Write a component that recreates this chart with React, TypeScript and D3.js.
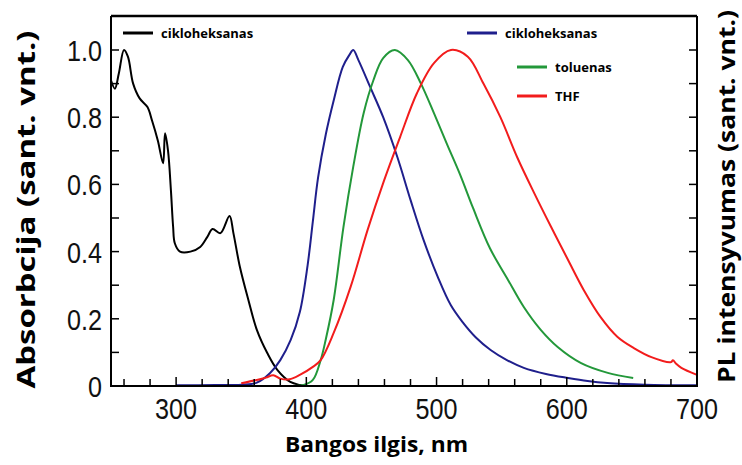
import React from "react";
import * as d3 from "d3";

// ---- data (wavelength nm, normalised intensity) ----
const absCyclohexane: [number, number][] = [
  [250, 0.91], [253, 0.885], [256, 0.93], [260, 1.0], [263, 0.98], [267, 0.9], [272, 0.856],
  [278, 0.83], [281.5, 0.79], [286, 0.73], [290, 0.663], [291.5, 0.752], [293.8, 0.7],
  [296, 0.583], [297.7, 0.474], [299, 0.425], [303, 0.4], [311, 0.4], [318.5, 0.414],
  [324, 0.444], [328, 0.467], [334, 0.455], [341, 0.506], [344, 0.455], [349, 0.354],
  [355.5, 0.256], [362, 0.167], [370, 0.098], [377.7, 0.048], [387.7, 0.012], [395, 0.003], [400, 0.0],
];
const plCyclohexane: [number, number][] = [
  [300, 0.002], [330, 0.003], [350, 0.004], [362, 0.01], [372, 0.038], [380, 0.077],
  [388, 0.137], [395, 0.22], [401, 0.36], [405, 0.49], [409, 0.62], [415, 0.75], [421, 0.85],
  [428, 0.95], [433, 0.985], [436, 1.0], [440, 0.97], [449, 0.89], [459, 0.8], [470, 0.68],
  [480, 0.554], [490, 0.435], [501, 0.324], [511, 0.24], [520, 0.19], [530, 0.145],
  [541.5, 0.107], [554, 0.077], [567, 0.054], [584, 0.036], [601, 0.024], [616, 0.015],
  [631, 0.009], [660, 0.004], [700, 0.002],
];
const plToluene: [number, number][] = [
  [350, 0.0], [380, 0.0], [398, 0.003], [405, 0.018], [411, 0.077], [415, 0.14], [421, 0.256],
  [428.5, 0.473], [436, 0.652], [444, 0.812], [451.5, 0.91], [459, 0.976], [468, 1.0],
  [478, 0.97], [488, 0.9], [498, 0.812], [508, 0.72], [518, 0.63], [528, 0.53], [541, 0.41],
  [555, 0.315], [567, 0.235], [580, 0.167], [593, 0.116], [611, 0.068], [631.5, 0.039], [651, 0.024],
];
const plTHF: [number, number][] = [
  [350, 0.008], [362, 0.018], [369, 0.025], [374.6, 0.032], [380, 0.022], [387, 0.02],
  [395, 0.033], [405, 0.057], [411, 0.077], [421, 0.158], [434, 0.295], [447, 0.464],
  [459, 0.604], [472, 0.741], [485, 0.872], [498, 0.961], [511, 1.0], [524, 0.98], [536, 0.9],
  [549, 0.8], [562, 0.68], [575, 0.574], [588, 0.473], [601, 0.375], [613, 0.286], [626, 0.205],
  [639, 0.146], [651.5, 0.113], [665, 0.086], [680, 0.071], [681.5, 0.077], [684, 0.066],
  [688, 0.054], [700, 0.033],
];

const xTickLabels = [300, 400, 500, 600, 700];
const yTickLabels = [0, 0.2, 0.4, 0.6, 0.8, 1.0];

const series = [
  { name: "cikloheksanas", data: absCyclohexane, color: "#000000" },
  { name: "cikloheksanas", data: plCyclohexane, color: "#1f1f8c" },
  { name: "toluenas", data: plToluene, color: "#23983a" },
  { name: "THF", data: plTHF, color: "#f21c1c" },
];

const legendItems = [
  { label: "cikloheksanas", color: "#000000", x1: 123, y: 33 },
  { label: "cikloheksanas", color: "#1f1f8c", x1: 467, y: 33 },
  { label: "toluenas", color: "#23983a", x1: 517, y: 67 },
  { label: "THF", color: "#f21c1c", x1: 517, y: 96 },
];

export default function App() {
  const W = 742, H = 465;
  const left = 111, right = 697, top = 16, bottom = 386;
  const x = d3.scaleLinear().domain([250, 700]).range([left, right]);
  const y = d3.scaleLinear().domain([0, 1]).range([bottom, 50]);

  const line = d3
    .line<[number, number]>()
    .x((d) => x(d[0]))
    .y((d) => Math.min(bottom, y(d[1])))
    .curve(d3.curveCatmullRom.alpha(0.5));

  const xTicks = d3.range(260, 700, 20);
  const yTicks = d3.range(1, 11).map((i) => i / 10);

  const tickFont = "'Liberation Sans', Arial, sans-serif";
  const titleFont = "'Open Sans', 'Noto Sans', sans-serif";

  return (
    <svg width={W} height={H} style={{ position: "absolute", left: 0, top: 0, background: "#fff" }}>
      <rect x={0} y={0} width={W} height={H} fill="#fff" />
      {/* curves */}
      {series.map((s, i) => (
        <path key={i} d={line(s.data) || ""} fill="none" stroke={s.color} strokeWidth={2} strokeLinejoin="round" />
      ))}
      {/* frame */}
      <line x1={left} x2={right} y1={top} y2={top} stroke="#000" strokeWidth={2.5} />
      <line x1={left} x2={right} y1={bottom} y2={bottom} stroke="#000" strokeWidth={2} />
      <line x1={left} x2={left} y1={top} y2={bottom + 1} stroke="#000" strokeWidth={2} />
      <line x1={right} x2={right} y1={top} y2={bottom + 1} stroke="#000" strokeWidth={2} />
      {/* x ticks */}
      {xTicks.map((t) => (
        <line key={"xt" + t} x1={x(t)} x2={x(t)} y1={bottom} y2={bottom - (t % 100 === 0 ? 9 : 7)} stroke="#000" strokeWidth={1.5} />
      ))}
      {/* y ticks left & right */}
      {yTicks.map((t) => (
        <g key={"yt" + t}>
          <line x1={left} x2={left + 8} y1={y(t)} y2={y(t)} stroke="#000" strokeWidth={1.5} />
          <line x1={right} x2={right - 8} y1={y(t)} y2={y(t)} stroke="#000" strokeWidth={1.5} />
        </g>
      ))}
      {/* tick labels */}
      {xTickLabels.map((t) => (
        <text key={"xl" + t} transform={`translate(${x(t)},419) scale(0.84,1)`} textAnchor="middle" fontFamily={tickFont} fontSize={30} fill="#111">
          {t}
        </text>
      ))}
      {yTickLabels.map((t) => (
        <text key={"yl" + t} transform={`translate(102,${y(t) + 11}) scale(0.84,1)`} textAnchor="end" fontFamily={tickFont} fontSize={30} fill="#111">
          {t === 0 ? "0" : t.toFixed(1)}
        </text>
      ))}
      {/* axis titles */}
      <text x={376.5} y={452} textAnchor="middle" fontFamily={titleFont} fontWeight="bold" fontSize={21} textLength={183} lengthAdjust="spacingAndGlyphs" fill="#000">
        Bangos ilgis, nm
      </text>
      <text transform="translate(35,209.5) rotate(-90)" textAnchor="middle" fontFamily={titleFont} fontWeight="bold" fontSize={25} textLength={358} lengthAdjust="spacingAndGlyphs" fill="#000">
        Absorbcija (sant. vnt.)
      </text>
      <text transform="translate(735,196.5) rotate(-90)" textAnchor="middle" fontFamily={titleFont} fontWeight="bold" fontSize={24} textLength={373} lengthAdjust="spacingAndGlyphs" fill="#000">
        PL intensyvumas (sant. vnt.)
      </text>
      {/* legends */}
      {legendItems.map((l, i) => (
        <g key={"lg" + i}>
          <line x1={l.x1} x2={l.x1 + 30} y1={l.y} y2={l.y} stroke={l.color} strokeWidth={3} />
          <text x={l.x1 + 38} y={l.y + 5} fontFamily={titleFont} fontWeight="bold" fontSize={13} fill="#000">
            {l.label}
          </text>
        </g>
      ))}
    </svg>
  );
}
